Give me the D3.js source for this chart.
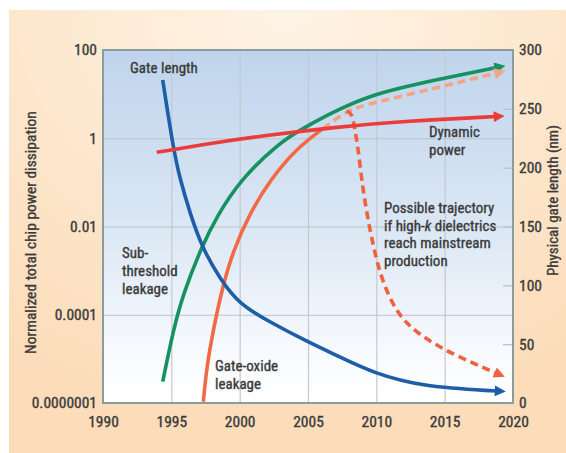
<!DOCTYPE html>
<html>
<head>
<meta charset="utf-8">
<script src="https://cdn.jsdelivr.net/npm/d3@7/dist/d3.min.js"></script>
<style>
  html, body { margin: 0; padding: 0; background: #ffffff; }
  svg { display: block; }
  text { font-family: "Liberation Sans Narrow", "Arial Narrow", "Roboto Condensed", "Liberation Sans", sans-serif; fill: #3a3a3a; stroke: #3a3a3a; stroke-width: 0.35px; }
</style>
</head>
<body>
<svg id="chart" width="566" height="453"></svg>
<script>
// Axis tick values
const yearTicks = [1990, 1995, 2000, 2005, 2010, 2015, 2020];
const powerTicks = [1e-7, 1e-4, 1e-2, 1, 100];
const powerTickLabels = ["0.0000001", "0.0001", "0.01", "1", "100"];
const gateTicks = [0, 50, 100, 150, 200, 250, 300];

// Gate length (nm, right axis)
const gateLengthYears = [1994.37, 1995.14, 1995.63, 1996.37, 1997.22, 1998.56, 2000.02, 2002.22, 2005.0, 2007.34, 2009.76, 2013.41, 2018.83];
const gateLengthNm    = [274.5, 216.5, 190.4, 161.2, 132.8, 105.4, 83.4, 68.8, 51.8, 39.1, 25.5, 13.6, 10.2];

// Dynamic power (normalized, left axis)
const dynamicYears = [1993.93, 1997.59, 2001.49, 2007.34, 2011.73, 2018.75];
const dynamicPower = [0.48, 0.745, 1.12, 1.83, 2.40, 3.11];

// Sub-threshold leakage (normalized, left axis)
const subYears = [1994.37, 1995.14, 1995.88, 1997.22, 1998.32, 2000.02, 2002.95, 2004.66, 2007.34, 2009.54, 2011.73, 2014.17, 2016.61, 2018.81];
const subPower = [5.3e-7, 3.0e-5, 3.06e-4, 3.48e-3, 0.0167, 0.113, 0.82, 1.71, 4.72, 9.08, 13.8, 20.4, 29.3, 40.1];

// Gate-oxide leakage, solid part (normalized, left axis)
const oxideYears = [1997.34, 1997.59, 1998.07, 1998.69, 1999.53, 2000.75, 2002.22, 2004.17, 2006.12];
const oxidePower = [1.1e-7, 1.71e-6, 3.03e-5, 3.64e-4, 2.93e-3, 0.0199, 0.113, 0.59, 1.68];

// Gate-oxide leakage, projected continuation
const oxideProjYears = [2006.12, 2007.83, 2009.02, 2011.73, 2014.17, 2016.61, 2018.81];
const oxideProjPower = [1.68, 4.14, 5.52, 8.83, 13.4, 20.4, 30.1];

// Gate-oxide leakage with high-k dielectrics
const highKYears = [2007.83, 2008.22, 2008.44, 2008.66, 2008.93, 2009.30, 2009.78, 2010.39, 2011.49, 2012.95, 2015.39, 2018.81];
const highKPower = [4.14, 3.73, 1.54, 0.60, 0.113, 0.0199, 3.48e-3, 6.14e-4, 1.08e-4, 2.34e-5, 4.9e-6, 1.02e-6];

const svg = d3.select("#chart");
const defs = svg.append("defs");

// Page background
const bg = defs.append("radialGradient").attr("id", "bgGrad")
  .attr("cx", "50%").attr("cy", "0%").attr("r", "95%");
bg.append("stop").attr("offset", "0%").attr("stop-color", "#fef4e6");
bg.append("stop").attr("offset", "55%").attr("stop-color", "#fde6cb");
bg.append("stop").attr("offset", "100%").attr("stop-color", "#fcdcb9");
svg.append("rect").attr("x", 9).attr("y", 10).attr("width", 557).attr("height", 443).attr("fill", "url(#bgGrad)");

// Plot area
const L = 103, R = 513, T = 50, B = 403;
const plotGrad = defs.append("linearGradient").attr("id", "plotGrad")
  .attr("x1", 0).attr("y1", 0).attr("x2", 0).attr("y2", 1);
plotGrad.append("stop").attr("offset", "0%").attr("stop-color", "#bfd4ec");
plotGrad.append("stop").attr("offset", "50%").attr("stop-color", "#dbe7f4");
plotGrad.append("stop").attr("offset", "88%").attr("stop-color", "#f9fbfe");
plotGrad.append("stop").attr("offset", "100%").attr("stop-color", "#ffffff");
svg.append("rect").attr("x", L).attr("y", T).attr("width", R - L).attr("height", B - T).attr("fill", "url(#plotGrad)");

// Scales
const x = d3.scaleLinear().domain([1990, 2020]).range([L, R]);
const yL = d3.scaleLog().domain(powerTicks).range([B, B - (B - T) / 4, B - 2 * (B - T) / 4, B - 3 * (B - T) / 4, T]);
const yR = d3.scaleLinear().domain([0, 300]).range([B, T]);

// Grid lines
svg.append("g").attr("class", "grid")
  .attr("transform", `translate(0,${B})`)
  .call(d3.axisBottom(x).tickValues(yearTicks.slice(1, -1)).tickSize(-(B - T)).tickFormat(""))
  .call(g => g.select(".domain").remove())
  .call(g => g.selectAll("line").attr("stroke", "#c3c9d0").attr("stroke-width", 1.2));
svg.append("g").attr("class", "grid")
  .attr("transform", `translate(${L},0)`)
  .call(d3.axisLeft(yL).tickValues(powerTicks.slice(1, -1)).tickSize(-(R - L)).tickFormat(""))
  .call(g => g.select(".domain").remove())
  .call(g => g.selectAll("line").attr("stroke", "#bcc3cb").attr("stroke-width", 1.2));

// Axes
svg.append("g")
  .attr("transform", `translate(0,${B})`)
  .call(d3.axisBottom(x).tickValues(yearTicks).tickFormat(d3.format("d")).tickSize(0).tickPadding(13))
  .call(g => g.select(".domain").remove())
  .call(g => g.selectAll("text").attr("font-size", 15.5).attr("font-family", null));
svg.append("g")
  .attr("transform", `translate(${L},0)`)
  .call(d3.axisLeft(yL).tickValues(powerTicks).tickFormat((d, i) => powerTickLabels[i]).tickSize(0).tickPadding(6))
  .call(g => g.select(".domain").remove())
  .call(g => g.selectAll("text").attr("font-size", 15.5).attr("font-family", null));
svg.append("g")
  .attr("transform", `translate(${R},0)`)
  .call(d3.axisRight(yR).tickValues(gateTicks).tickSizeInner(-10).tickSizeOuter(0).tickPadding(6))
  .call(g => g.select(".domain").remove())
  .call(g => g.selectAll("line").attr("stroke", "#b8c0c8").attr("stroke-width", 1.2))
  .call(g => g.selectAll("text").attr("font-size", 15.5).attr("font-family", null));

// Plot border
svg.append("rect").attr("x", L).attr("y", T).attr("width", R - L).attr("height", B - T)
  .attr("fill", "none").attr("stroke", "#8a9c9c").attr("stroke-width", 2);

// Axis titles
svg.append("text")
  .attr("transform", `translate(36,${(T + B) / 2 + 6}) rotate(-90)`)
  .attr("text-anchor", "middle").attr("font-size", 15.5)
  .text("Normalized total chip power dissipation");
svg.append("text")
  .attr("transform", `translate(558,${(T + B) / 2 - 26}) rotate(-90)`)
  .attr("text-anchor", "middle").attr("font-size", 15)
  .text("Physical gate length (nm)");

// Arrowhead markers
function marker(id, color) {
  defs.append("marker").attr("id", id)
    .attr("viewBox", "0 0 10 10").attr("refX", 2).attr("refY", 5)
    .attr("markerUnits", "userSpaceOnUse").attr("markerWidth", 13).attr("markerHeight", 11)
    .attr("orient", "auto")
    .append("path").attr("d", "M0,0 L10,5 L0,10 Z").attr("fill", color);
}
marker("arBlue", "#1c5ea8");
marker("arRed", "#ec3b3b");
marker("arGreen", "#159260");
marker("arSalmon", "#f6a384");
marker("arOrange", "#f1613f");

const lineL = d3.line().x(d => x(d[0])).y(d => yL(d[1])).curve(d3.curveBasis);
const lineR = d3.line().x(d => x(d[0])).y(d => yR(d[1])).curve(d3.curveBasis);
const zip = (a, b) => a.map((v, i) => [v, b[i]]);

const curves = svg.append("g").attr("fill", "none").attr("stroke-width", 3.6);

curves.append("path").datum(zip(subYears, subPower))
  .attr("d", lineL).attr("stroke", "#159260").attr("marker-end", "url(#arGreen)");
curves.append("path").datum(zip(oxideProjYears, oxideProjPower))
  .attr("d", lineL).attr("stroke", "#f6a384").attr("stroke-dasharray", "8,5")
  .attr("marker-end", "url(#arSalmon)");
curves.append("path").datum(zip(highKYears, highKPower))
  .attr("d", lineL).attr("stroke", "#f1613f").attr("stroke-dasharray", "8,5")
  .attr("marker-end", "url(#arOrange)");
curves.append("path").datum(zip(oxideYears, oxidePower))
  .attr("d", lineL).attr("stroke", "#f26a45");
curves.append("path").datum(zip(gateLengthYears, gateLengthNm))
  .attr("d", lineR).attr("stroke", "#1c5ea8").attr("marker-end", "url(#arBlue)");
curves.append("path").datum(zip(dynamicYears, dynamicPower))
  .attr("d", lineL).attr("stroke", "#ec3b3b").attr("marker-end", "url(#arRed)");

// Curve labels
function label(xp, yp, lines, lh) {
  const t = svg.append("text").attr("x", xp).attr("y", yp).attr("font-size", 15);
  lines.forEach((ln, i) => {
    const ts = t.append("tspan").attr("x", xp).attr("dy", i === 0 ? 0 : lh);
    if (Array.isArray(ln)) {
      ln.forEach(part => ts.append("tspan").attr("font-style", part.i ? "italic" : null).text(part.t));
    } else {
      ts.text(ln);
    }
  });
}
label(130, 73, ["Gate length"], 18);
label(429, 137, ["Dynamic", "power"], 18);
label(384, 213, ["Possible trajectory", [{t: "if high-"}, {t: "k", i: true}, {t: " dielectrics"}], "reach mainstream", "production"], 17.5);
label(122, 258, ["Sub-", "threshold", "leakage"], 18);
label(215, 371, ["Gate-oxide", "leakage"], 17.5);
</script>
</body>
</html>
